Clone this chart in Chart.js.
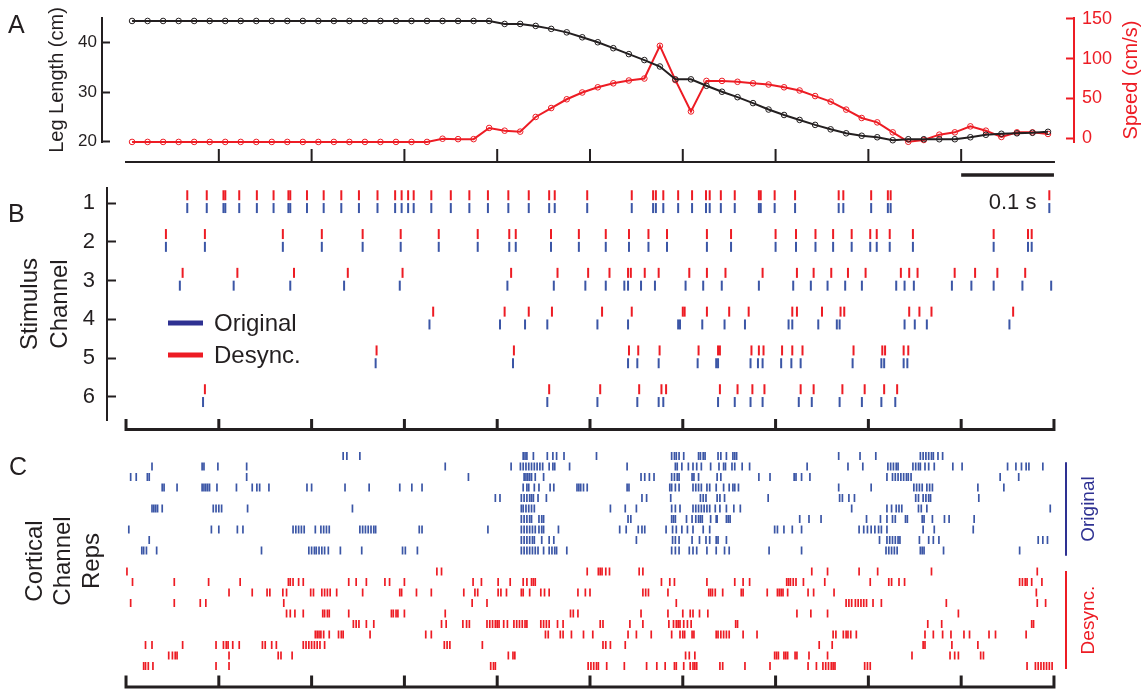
<!DOCTYPE html>
<html>
<head>
<meta charset="utf-8">
<script src="https://cdn.jsdelivr.net/npm/chart.js@4.4.0/dist/chart.umd.min.js"></script>
<style>
  body { margin: 0; background: #fff; }
  #wrap { position: relative; width: 1146px; height: 690px; }
  #wrap canvas { position: absolute; left: 0; top: 0; }
</style>
</head>
<body>
<div id="wrap">
  <canvas id="legChart" width="1146" height="690"></canvas>
  <canvas id="stimChart" width="1146" height="690"></canvas>
  <canvas id="cortChart" width="1146" height="690"></canvas>
</div>
<script>
// ---- data (times in ms) ----
const frameStart = 6.5;     // first video frame (ms)
const framePeriod = 16.73;  // ~60 Hz

const legLength = [44.4, 44.4, 44.4, 44.4, 44.4, 44.4, 44.4, 44.4, 44.4, 44.4, 44.4, 44.4,
  44.4, 44.4, 44.4, 44.4, 44.4, 44.4, 44.4, 44.4, 44.4, 44.4, 44.4, 44.4,
  43.8, 43.8, 43.4, 42.8, 42.1, 41.1, 40.1, 38.9, 37.7, 36.5, 35.2, 32.6,
  32.6, 31.3, 30.1, 29.0, 27.8, 26.5, 25.4, 24.4, 23.4, 22.5, 21.7, 21.2,
  20.9, 20.3, 20.5, 20.5, 20.5, 20.5, 20.9, 21.4, 21.6, 21.7, 21.8, 22.0];

const legSpeed = [-4.5, -4.5, -4.5, -4.5, -4.5, -4.5, -4.5, -4.5, -4.5, -4.5, -4.5, -4.5,
  -4.5, -4.5, -4.5, -4.5, -4.5, -4.5, -4.5, -4.5, -0.5, -1, -1, 13,
  9.6, 8.4, 26.8, 38, 49, 57.5, 64, 69, 72.5, 75, 116, 73,
  33.7, 72, 72, 70.9, 69, 67.5, 64, 60, 53, 46, 36, 25.5,
  20, 7.5, -4.3, -2.1, 4.6, 7.5, 15, 9.6, 1.7, 7.5, 7.5, 5.5];

const legTicks = [20, 30, 40];
const speedTicks = [0, 50, 100, 150];
const timeTicks = [0, 100, 200, 300, 400, 500, 600, 700, 800, 900, 1000];
const legTimeTicks = [100, 200, 300, 400, 500, 600, 700, 800, 900];
const channelTicks = [1, 2, 3, 4, 5, 6];

// stimulus channels 1..6, original spike times
const stimOriginal = [
  [66, 87, 105, 107, 122, 141, 159, 175, 177, 195, 213, 232, 251, 271, 290, 297, 304, 310, 329, 350, 370, 390, 412, 434, 456, 462, 497, 545, 568, 571, 579, 595, 610, 625, 629, 641, 656, 682, 684, 699, 721, 768, 773, 803, 821, 824, 995],
  [43, 85, 169, 211, 255, 296, 337, 379, 413, 420, 458, 488, 517, 542, 563, 583, 626, 652, 700, 722, 743, 762, 782, 802, 809, 823, 848, 935, 972, 976],
  [58, 116, 177, 235, 295, 411, 461, 495, 517, 537, 541, 555, 570, 603, 622, 642, 682, 719, 738, 756, 775, 793, 830, 839, 849, 890, 911, 935, 966, 997],
  [327, 403, 430, 454, 508, 541, 595, 597, 621, 645, 667, 714, 718, 746, 766, 769, 839, 850, 863, 952],
  [269, 417, 541, 551, 574, 616, 636, 638, 673, 681, 686, 706, 717, 727, 783, 814, 817, 838, 842],
  [83, 454, 508, 551, 574, 579, 638, 656, 673, 686, 725, 739, 769, 793, 814, 829]
];

// stimulus channels 1..6, desynchronized spike times
const stimDesync = [
  [66, 87, 105, 107, 122, 141, 159, 175, 177, 195, 213, 232, 251, 271, 290, 297, 304, 310, 329, 350, 370, 390, 412, 434, 456, 462, 497, 545, 568, 571, 579, 595, 610, 625, 629, 641, 656, 682, 684, 699, 721, 768, 773, 803, 821, 824, 995],
  [43, 85, 169, 211, 255, 296, 337, 379, 413, 420, 458, 488, 517, 542, 563, 583, 626, 652, 700, 722, 743, 762, 782, 802, 809, 823, 848, 935, 972, 976],
  [61, 120, 181, 239, 298, 415, 465, 498, 521, 541, 544, 559, 574, 607, 626, 646, 686, 723, 741, 760, 778, 797, 835, 844, 853, 893, 915, 939, 969],
  [331, 408, 434, 459, 513, 545, 600, 602, 626, 650, 671, 718, 723, 750, 770, 774, 844, 855, 868, 956],
  [270, 418, 542, 552, 575, 617, 638, 640, 674, 682, 687, 707, 718, 729, 784, 815, 818, 838, 843],
  [85, 456, 511, 553, 577, 582, 640, 659, 675, 688, 727, 741, 772, 796, 817, 831]
];

// cortical channel, 10 repetitions each
const cortOriginal = [
  [234, 238, 252, 428, 430, 432, 439, 454, 460, 464, 472, 507, 588, 591, 593, 596, 601, 617, 619, 622, 624, 638, 641, 647, 654, 656, 658, 768, 791, 808, 856, 859, 862, 865, 868, 870, 875, 880],
  [28, 82, 84, 99, 130, 344, 415, 425, 428, 431, 434, 437, 440, 443, 446, 449, 456, 460, 462, 478, 540, 592, 594, 599, 606, 611, 615, 620, 630, 639, 644, 646, 653, 656, 664, 672, 734, 778, 794, 821, 824, 827, 830, 832, 848, 851, 854, 856, 861, 865, 871, 891, 901, 950, 959, 965, 970, 973, 988],
  [5, 11, 23, 25, 130, 369, 429, 431, 433, 435, 437, 441, 450, 555, 559, 564, 569, 588, 591, 594, 596, 610, 612, 617, 637, 641, 682, 694, 720, 722, 728, 737, 820, 826, 829, 832, 835, 838, 841, 843, 846, 942, 962],
  [39, 41, 55, 82, 84, 86, 88, 90, 98, 119, 136, 141, 144, 154, 195, 200, 236, 262, 295, 308, 319, 428, 432, 434, 440, 445, 457, 461, 486, 488, 490, 493, 497, 540, 542, 586, 588, 592, 596, 611, 614, 617, 620, 626, 629, 636, 644, 650, 654, 656, 660, 768, 803, 849, 852, 855, 858, 863, 866, 869, 918, 946],
  [398, 403, 426, 429, 432, 435, 437, 439, 444, 453, 556, 561, 587, 619, 622, 625, 637, 640, 645, 692, 769, 772, 779, 785, 851, 854, 859, 862, 865, 867, 919],
  [28, 30, 32, 34, 39, 94, 97, 100, 103, 131, 244, 426, 428, 431, 434, 437, 440, 522, 538, 550, 588, 592, 597, 611, 614, 617, 620, 623, 626, 629, 635, 640, 647, 655, 662, 782, 820, 825, 830, 833, 836, 854, 857, 863, 996],
  [426, 429, 432, 435, 437, 445, 448, 450, 541, 544, 588, 590, 592, 604, 610, 614, 617, 619, 621, 630, 636, 637, 647, 649, 651, 726, 736, 749, 798, 813, 820, 826, 829, 840, 842, 858, 860, 869, 882, 887, 914],
  [3, 92, 100, 120, 126, 180, 183, 186, 189, 192, 204, 210, 213, 216, 219, 252, 255, 258, 261, 264, 267, 269, 316, 319, 390, 426, 429, 432, 435, 438, 441, 445, 448, 450, 466, 532, 539, 552, 556, 559, 582, 589, 593, 599, 605, 611, 622, 629, 699, 702, 709, 718, 728, 790, 795, 799, 803, 807, 811, 814, 820, 859, 871, 913],
  [25, 426, 429, 432, 435, 438, 440, 448, 456, 461, 550, 589, 592, 596, 610, 618, 625, 629, 636, 638, 647, 812, 820, 823, 826, 829, 832, 834, 855, 865, 870, 876, 983, 988, 993],
  [17, 19, 22, 33, 146, 197, 200, 203, 205, 208, 211, 214, 218, 231, 254, 298, 301, 314, 426, 429, 432, 435, 438, 441, 444, 450, 456, 459, 462, 464, 475, 588, 592, 596, 607, 611, 615, 626, 636, 645, 650, 693, 728, 819, 822, 825, 828, 831, 856, 858, 860, 881, 963]
];

const cortDesync = [
  [1, 335, 340, 497, 509, 511, 513, 517, 521, 553, 557, 739, 756, 790, 810, 868, 982],
  [7, 52, 89, 123, 175, 177, 180, 186, 191, 240, 248, 259, 279, 284, 300, 374, 383, 401, 414, 428, 432, 437, 439, 441, 577, 586, 591, 626, 656, 665, 672, 712, 714, 716, 719, 722, 730, 753, 802, 822, 825, 833, 839, 963, 966, 969, 971, 976, 987],
  [111, 136, 152, 155, 169, 173, 199, 202, 211, 214, 217, 220, 227, 255, 295, 297, 313, 329, 364, 376, 379, 401, 404, 410, 426, 428, 435, 447, 451, 456, 487, 495, 500, 557, 560, 563, 584, 628, 630, 632, 635, 643, 663, 665, 691, 702, 704, 706, 708, 713, 735, 741, 763, 981],
  [5, 52, 80, 86, 170, 373, 389, 593, 776, 779, 782, 786, 789, 792, 795, 798, 805, 814, 884, 982, 991],
  [173, 177, 182, 191, 212, 214, 217, 219, 240, 286, 288, 291, 293, 300, 344, 479, 482, 487, 555, 584, 600, 608, 611, 618, 627, 723, 738, 756, 897],
  [245, 248, 251, 259, 267, 340, 345, 363, 367, 370, 389, 392, 395, 398, 400, 402, 407, 411, 418, 421, 424, 427, 430, 432, 447, 450, 453, 456, 465, 471, 511, 514, 543, 557, 585, 590, 593, 595, 597, 601, 605, 609, 657, 659, 864, 879, 976, 978],
  [204, 206, 208, 210, 213, 219, 229, 232, 234, 263, 323, 329, 452, 455, 468, 471, 480, 493, 503, 541, 550, 566, 588, 597, 600, 602, 610, 612, 636, 638, 641, 644, 647, 650, 665, 680, 762, 765, 773, 776, 778, 781, 787, 861, 870, 880, 889, 903, 909, 930, 937, 970],
  [21, 28, 61, 97, 105, 108, 110, 115, 122, 147, 150, 157, 162, 191, 194, 197, 200, 203, 206, 209, 214, 343, 346, 349, 384, 514, 517, 522, 538, 747, 761, 859, 861, 890, 918],
  [46, 50, 53, 55, 111, 164, 167, 179, 412, 417, 419, 603, 607, 613, 699, 701, 703, 709, 711, 713, 721, 723, 736, 756, 847, 888, 893, 897, 921, 924],
  [19, 21, 24, 29, 97, 111, 393, 396, 398, 498, 501, 504, 507, 509, 518, 537, 561, 572, 581, 591, 593, 601, 608, 611, 613, 615, 640, 643, 667, 694, 735, 744, 751, 754, 757, 760, 762, 764, 796, 799, 802, 971, 980, 983, 986, 989, 992, 995, 998]
];

// ---- styles ----
const FONT = '"Liberation Sans", Arial, Helvetica, sans-serif';
const INK = '#231f20';
const RED = '#ed1c24';
const BLUE = '#3b56a6';
const NAVY = '#2e3192';

Chart.defaults.font.family = FONT;
Chart.defaults.color = INK;
Chart.defaults.animation = false;
Chart.defaults.events = [];
Chart.defaults.plugins.legend.display = false;
Chart.defaults.plugins.tooltip.enabled = false;

// time axis shared by all three panels (0..1000 ms over 126..1054 px)
const X_MIN_WIDE = -25.9, X_MAX_WIDE = 1021.6;   // panel A (axes at 102 / 1074)
const X_MIN = -20.5, X_MAX = 1006.5;             // panels B, C

const decor = {
  id: 'decor',
  afterDraw(chart, args, o) {
    const { ctx, chartArea: ca, scales } = chart;
    const xs = scales.x;
    ctx.save();
    if (o.letter) {
      ctx.font = '25px ' + FONT;
      ctx.fillStyle = INK;
      ctx.textAlign = 'left';
      ctx.textBaseline = 'alphabetic';
      ctx.fillText(o.letter.text, o.letter.x, o.letter.y);
    }
    if (o.axis) {
      const a = o.axis;
      const y = ca.bottom + a.gap;
      ctx.strokeStyle = INK;
      ctx.lineWidth = a.width;
      ctx.lineCap = 'square';
      ctx.beginPath();
      ctx.moveTo(xs.getPixelForValue(a.from), y);
      ctx.lineTo(xs.getPixelForValue(a.to), y);
      a.ticks.forEach(t => {
        const px = xs.getPixelForValue(t);
        ctx.moveTo(px, y);
        ctx.lineTo(px, y - a.tickLen);
      });
      ctx.stroke();
    }
    if (o.bar) {
      const b = o.bar;
      const y = ca.bottom + b.gap;
      ctx.strokeStyle = INK;
      ctx.lineWidth = b.width;
      ctx.lineCap = 'butt';
      ctx.beginPath();
      ctx.moveTo(xs.getPixelForValue(b.from), y);
      ctx.lineTo(xs.getPixelForValue(b.to), y);
      ctx.stroke();
      ctx.font = '22px ' + FONT;
      ctx.fillStyle = INK;
      ctx.textAlign = 'center';
      ctx.textBaseline = 'alphabetic';
      ctx.fillText(b.label, xs.getPixelForValue((b.from + b.to) / 2) + 5, y + b.labelGap);
    }
    if (o.sideTitle) {
      const s = o.sideTitle;
      ctx.translate(ca.right + s.dx, (ca.top + ca.bottom) / 2);
      ctx.rotate(-Math.PI / 2);
      ctx.font = s.size + 'px ' + FONT;
      ctx.fillStyle = s.color;
      ctx.textAlign = 'center';
      ctx.textBaseline = 'middle';
      ctx.fillText(s.text, 0, 0);
      ctx.setTransform(1, 0, 0, 1, 0, 0);
    }
    if (o.legend) {
      o.legend.forEach((item, i) => {
        const y = ca.top + 135 + i * 32;
        ctx.strokeStyle = item.color;
        ctx.lineWidth = 5;
        ctx.lineCap = 'butt';
        ctx.beginPath();
        ctx.moveTo(ca.left + 61, y);
        ctx.lineTo(ca.left + 96, y);
        ctx.stroke();
        ctx.font = '24px ' + FONT;
        ctx.fillStyle = INK;
        ctx.textAlign = 'left';
        ctx.textBaseline = 'middle';
        ctx.fillText(item.label, ca.left + 107, y + 1);
      });
    }
    if (o.brackets) {
      const ys = scales.y;
      o.brackets.forEach(b => {
        const y0 = ys.getPixelForValue(b.from), y1 = ys.getPixelForValue(b.to);
        ctx.strokeStyle = b.color;
        ctx.lineWidth = 2;
        ctx.beginPath();
        ctx.moveTo(ca.right + 6, y0);
        ctx.lineTo(ca.right + 6, y1);
        ctx.stroke();
        ctx.save();
        ctx.translate(ca.right + 29, (y0 + y1) / 2);
        ctx.rotate(-Math.PI / 2);
        ctx.font = '19px ' + FONT;
        ctx.fillStyle = b.color;
        ctx.textAlign = 'center';
        ctx.textBaseline = 'middle';
        ctx.fillText(b.text, 0, 0);
        ctx.restore();
      });
    }
    ctx.restore();
  }
};

const fixTicks = list => scale => { scale.ticks = list.map(v => ({ value: v })); };
// keep the axis width fixed and stop tick labels from pushing the plot area around
const fixWidth = w => scale => { scale.width = w; scale.paddingTop = 0; scale.paddingBottom = 0; };

// ---- panel A: leg length and speed ----
const legPoints = values => values.map((v, i) => ({ x: frameStart + framePeriod * i, y: v }));

new Chart(document.getElementById('legChart'), {
  type: 'line',
  data: {
    datasets: [
      {
        data: legPoints(legLength),
        yAxisID: 'yL',
        borderColor: INK,
        borderWidth: 2,
        pointStyle: 'circle',
        pointRadius: 2.8,
        pointBorderWidth: 1,
        pointBorderColor: INK,
        pointBackgroundColor: 'rgba(255,255,255,0)',
        tension: 0,
        clip: false
      },
      {
        data: legPoints(legSpeed),
        yAxisID: 'yR',
        borderColor: RED,
        borderWidth: 2,
        pointStyle: 'circle',
        pointRadius: 2.8,
        pointBorderWidth: 1,
        pointBorderColor: RED,
        pointBackgroundColor: 'rgba(255,255,255,0)',
        tension: 0,
        clip: false
      }
    ]
  },
  options: {
    responsive: false,
    layout: { padding: { top: 18, bottom: 548, left: 0, right: 0 } },
    scales: {
      x: { type: 'linear', min: X_MIN_WIDE, max: X_MAX_WIDE, display: false },
      yL: {
        position: 'left',
        min: 19.94, max: 45,
        afterBuildTicks: fixTicks(legTicks),
        afterFit: fixWidth(102),
        border: { display: true, color: INK, width: 2 },
        grid: { display: true, drawOnChartArea: false, drawTicks: true, tickLength: -8, tickWidth: 2, tickColor: INK },
        ticks: { font: { size: 17 }, color: INK, padding: 13 },
        title: { display: true, text: 'Leg Length (cm)', font: { size: 20 }, color: INK, padding: { top: 45.5, bottom: 0 } }
      },
      yR: {
        position: 'right',
        min: -4.6, max: 150.9,
        afterBuildTicks: fixTicks(speedTicks),
        afterFit: fixWidth(72),
        border: { display: true, color: RED, width: 2 },
        grid: { display: true, drawOnChartArea: false, drawTicks: true, tickLength: -8, tickWidth: 2, tickColor: RED },
        ticks: { font: { size: 18 }, color: RED, padding: 16 }
      }
    },
    plugins: {
      decor: {
        letter: { text: 'A', x: 8, y: 33 },
        axis: { gap: 20, from: 0, to: 1000, ticks: legTimeTicks, tickLen: 12, width: 2 },
        bar: { from: 900, to: 1000, gap: 33, width: 3.5, label: '0.1 s', labelGap: 34 },
        sideTitle: { text: 'Speed (cm/s)', color: RED, size: 20, dx: 57 }
      }
    }
  },
  plugins: [decor]
});

// ---- panel B: stimulus channel rasters ----
const stimPoints = (rows, shift) => rows.flatMap((times, i) => times.map(t => ({ x: t, y: i + 1 + shift })));

const spikeStyle = (color, len, width) => ({
  pointStyle: 'line',
  pointRotation: 90,
  pointRadius: len / 2,
  pointBorderWidth: width,
  pointBorderColor: color,
  pointBackgroundColor: color,
  borderColor: color,
  showLine: false,
  clip: false
});

new Chart(document.getElementById('stimChart'), {
  type: 'scatter',
  data: {
    datasets: [
      Object.assign({ data: stimPoints(stimDesync, -0.2) }, spikeStyle(RED, 10, 2)),
      Object.assign({ data: stimPoints(stimOriginal, 0.13) }, spikeStyle(BLUE, 10, 2))
    ]
  },
  options: {
    responsive: false,
    layout: { padding: { top: 188, bottom: 270, left: 0, right: 86 } },
    scales: {
      x: { type: 'linear', min: X_MIN, max: X_MAX, display: false },
      y: {
        type: 'linear',
        reverse: true,
        min: 0.613, max: 6.593,
        afterBuildTicks: fixTicks(channelTicks),
        afterFit: fixWidth(107),
        border: { display: true, color: INK, width: 2 },
        grid: { display: true, drawOnChartArea: false, drawTicks: true, tickLength: -9, tickWidth: 2, tickColor: INK },
        ticks: { font: { size: 22 }, color: INK, padding: 21 },
        title: { display: true, text: ['Stimulus', 'Channel'], font: { size: 24, lineHeight: 1.25 }, color: INK, padding: { top: 15, bottom: 0 } }
      }
    },
    plugins: {
      decor: {
        letter: { text: 'B', x: 8, y: 222 },
        axis: { gap: 9.5, from: 0, to: 1000, ticks: timeTicks, tickLen: 9, width: 3 },
        legend: [{ label: 'Original', color: NAVY }, { label: 'Desync.', color: RED }]
      }
    }
  },
  plugins: [decor]
});

// ---- panel C: cortical responses ----
const cortPoints = (rows, first) => rows.flatMap((times, i) => times.map(t => ({ x: t, y: first + i })));

new Chart(document.getElementById('cortChart'), {
  type: 'scatter',
  data: {
    datasets: [
      Object.assign({ data: cortPoints(cortOriginal, 1) }, spikeStyle(BLUE, 8, 1.7)),
      Object.assign({ data: cortPoints(cortDesync, 12) }, spikeStyle(RED, 8, 1.7))
    ]
  },
  options: {
    responsive: false,
    layout: { padding: { top: 445.5, bottom: 13.5, left: 0, right: 86 } },
    scales: {
      x: { type: 'linear', min: X_MIN, max: X_MAX, display: false },
      y: {
        type: 'linear',
        reverse: true,
        min: 0, max: 22,
        afterFit: fixWidth(107),
        border: { display: false },
        grid: { display: false },
        ticks: { display: false },
        title: { display: true, text: ['Cortical', 'Channel', 'Reps'], font: { size: 24, lineHeight: 1.19 }, color: INK, padding: { top: 20.75, bottom: 0 } }
      }
    },
    plugins: {
      decor: {
        letter: { text: 'C', x: 9, y: 475 },
        axis: { gap: 10.5, from: 0, to: 1000, ticks: timeTicks, tickLen: 10, width: 3 },
        brackets: [
          { text: 'Original', color: NAVY, from: 1.7, to: 10.4 },
          { text: 'Desync.', color: RED, from: 12.05, to: 21.2 }
        ]
      }
    }
  },
  plugins: [decor]
});
</script>
</body>
</html>
